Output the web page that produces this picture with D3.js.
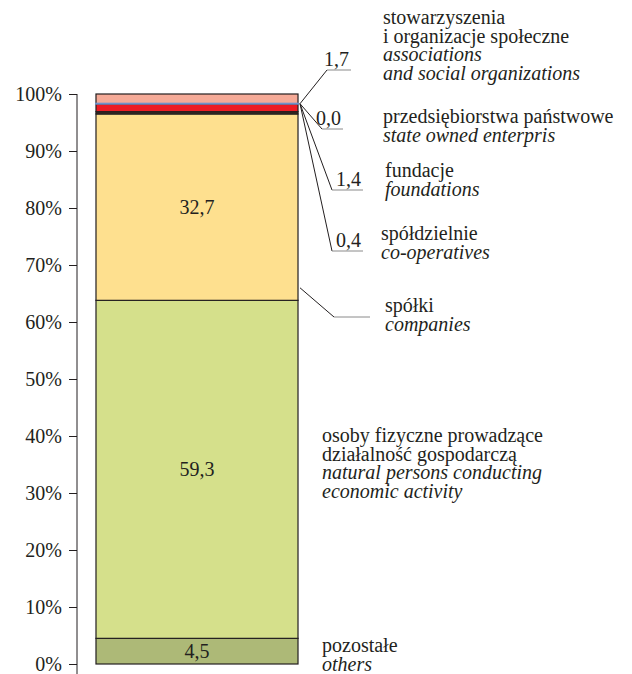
<!DOCTYPE html>
<html>
  <head>
    <meta charset="utf-8">
    <style>
    body { margin: 0; background: #fff; }
    svg text { font-family: "Liberation Serif", "DejaVu Serif", serif; fill: #231f20; }
    .en { font-style: italic; }
    </style>
  </head>
  <body>
    <div id="chart-area"></div>

    <script src="https://d3js.org/d3.v7.min.js"></script>
    <script>
      // categories, from the bottom of the bar to the top
      const keys = ["others", "natural", "companies", "coops", "foundations", "stateOwned", "associations"];
      const namesPl = [
        ["pozostałe"],
        ["osoby fizyczne prowadzące", "działalność gospodarczą"],
        ["spółki"],
        ["spółdzielnie"],
        ["fundacje"],
        ["przedsiębiorstwa państwowe"],
        ["stowarzyszenia", "i organizacje społeczne"]
      ];
      const namesEn = [
        ["others"],
        ["natural persons conducting", "economic activity"],
        ["companies"],
        ["co-operatives"],
        ["foundations"],
        ["state owned enterpris"],
        ["associations", "and social organizations"]
      ];
      const shares = [4.5, 59.3, 32.7, 0.4, 1.4, 0.0, 1.7];
      const colors = ["#adb977", "#d5e08b", "#fee08f", "#3d2b22", "#ed1c24", "#6f93cb", "#f5aa97"];
      const tickValues = [0, 10, 20, 30, 40, 50, 60, 70, 80, 90, 100];

      const width = 632;
      const height = 674;
      const fontFamily = "'Liberation Serif', 'DejaVu Serif', serif";
      const fontSize = 20;

      const svg = d3.select("#chart-area")
        .append("svg")
          .attr("width", width)
          .attr("height", height)
          .attr("font-family", fontFamily);

      const y = d3.scaleLinear().domain([0, 100]).range([664, 94]);
      const x = d3.scaleBand().domain(["all"]).range([77, 317]).paddingOuter(0.094);

      const row = {};
      keys.forEach((k, i) => row[k] = shares[i]);
      const series = d3.stack().keys(keys)([row]);

      const fmt = v => d3.format(".1f")(v).replace(".", ",");

      // axis
      const axis = svg.append("g")
        .attr("transform", "translate(77,0)")
        .call(d3.axisLeft(y).tickValues(tickValues).tickSize(8).tickSizeOuter(0).tickPadding(7)
          .tickFormat(d => d + "%"));
      axis.attr("font-family", fontFamily).attr("font-size", fontSize);
      axis.select(".domain").remove();
      axis.selectAll("line").attr("stroke", "#231f20");
      axis.selectAll("text").attr("fill", "#231f20");
      svg.append("line")
        .attr("x1", 77).attr("x2", 77)
        .attr("y1", y(100)).attr("y2", y(0) + 12)
        .attr("stroke", "#231f20");

      // bar segments
      const segs = svg.selectAll("rect.seg")
        .data(series)
        .join("rect")
          .attr("class", "seg")
          .attr("x", x("all"))
          .attr("width", x.bandwidth())
          .attr("y", d => y(d[0][1]))
          .attr("height", d => Math.max(y(d[0][0]) - y(d[0][1]), 0.01))
          .attr("fill", (d, i) => colors[i])
          .attr("stroke", (d, i) => shares[i] === 0 ? colors[i] : "#231f20")
          .attr("stroke-width", (d, i) => shares[i] === 0 ? 2 : 1.2);
      // keep the empty segment visible as a thin coloured line
      segs.filter((d, i) => shares[i] === 0).raise();

      // values inside the large segments
      svg.selectAll("text.inner")
        .data(series.filter((d, i) => shares[i] > 4))
        .join("text")
          .attr("class", "inner")
          .attr("x", x("all") + x.bandwidth() / 2)
          .attr("y", d => (y(d[0][0]) + y(d[0][1])) / 2)
          .attr("dy", "0.35em")
          .attr("text-anchor", "middle")
          .attr("font-size", fontSize)
          .text(d => fmt(d[0][1] - d[0][0]));

      // label placement (layout only): leader elbow, end of leader, label x, first baseline
      const layout = {
        associations: { elbow: [327, 70], end: 351, tx: 383, ty: 24 },
        stateOwned:   { elbow: [322, 129], end: 343, tx: 383, ty: 123 },
        foundations:  { elbow: [332, 190], end: 363, tx: 385, ty: 177 },
        coops:        { elbow: [332, 251], end: 363, tx: 381, ty: 240 },
        companies:    { elbow: [334, 317], end: 370, tx: 385, ty: 312, from: 66 },
        natural:      { tx: 322, ty: 442 },
        others:       { tx: 322, ty: 652 }
      };
      const lineGap = 18.5;
      const barRight = x("all") + x.bandwidth();
      const smallTop = series[5][0][1];

      keys.forEach((k, i) => {
        const L = layout[k];
        if (L.elbow) {
          const y0 = y(L.from !== undefined ? L.from : smallTop);
          svg.append("line")
            .attr("x1", barRight + 2).attr("y1", y0)
            .attr("x2", L.elbow[0]).attr("y2", L.elbow[1])
            .attr("stroke", "#231f20").attr("stroke-width", 1);
          svg.append("line")
            .attr("x1", L.elbow[0]).attr("y1", L.elbow[1])
            .attr("x2", L.end).attr("y2", L.elbow[1])
            .attr("stroke", "#8a8a8a").attr("stroke-width", 1);
          if (k !== "companies") {
            svg.append("text")
              .attr("x", L.end - 2).attr("y", L.elbow[1] - 4)
              .attr("text-anchor", "end")
              .attr("font-size", fontSize)
              .text(fmt(shares[i]));
          }
        }
        const lines = namesPl[i].map(t => ({ t, en: false }))
          .concat(namesEn[i].map(t => ({ t, en: true })));
        svg.selectAll(null)
          .data(lines)
          .join("text")
            .attr("class", d => d.en ? "en" : null)
            .attr("x", L.tx)
            .attr("y", (d, j) => L.ty + j * lineGap)
            .attr("font-size", fontSize)
            .text(d => d.t);
      });
    </script>
  </body>
</html>
